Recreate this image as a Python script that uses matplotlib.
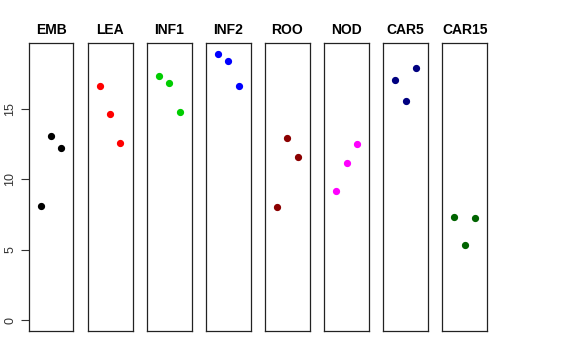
import matplotlib
matplotlib.use("Agg")
import matplotlib.pyplot as plt

plt.rcParams['font.family'] = ['Liberation Sans', 'DejaVu Sans']

# panel names, colours and the three values in each panel
groups = ['EMB', 'LEA', 'INF1', 'INF2', 'ROO', 'NOD', 'CAR5', 'CAR15']
colors = ['black', 'red', '#00CD00', 'blue', '#8B0000', 'magenta', '#000080', '#006400']
emb = [8.11, 13.08, 12.26]
lea = [16.65, 14.67, 12.59]
inf1 = [17.34, 16.84, 14.79]
inf2 = [18.9, 18.43, 16.63]
roo = [8.02, 12.94, 11.57]
nod = [9.16, 11.19, 12.49]
car5 = [17.08, 15.59, 17.91]
car15 = [7.36, 5.35, 7.26]
values = [emb, lea, inf1, inf2, roo, nod, car5, car15]
xpos = [1, 2, 3]
yticks = [0, 5, 10, 15]

fig = plt.figure(figsize=(5.76, 3.6), dpi=100)

ymax = max(max(v) for v in values)
ypad = 0.04 * ymax
for i, (name, col, vals) in enumerate(zip(groups, colors, values)):
    left = (28.7 + i * 59.1) / 576
    ax = fig.add_axes([left, 29 / 360, 44.7 / 576, 287.7 / 360])
    ax.plot(xpos, vals, 'o', color=col, ms=4.2, mec=col)
    ax.set_xlim(-0.16, 4.16)
    ax.set_ylim(-ypad, ymax + ypad)
    ax.set_xticks([])
    for s in ax.spines.values():
        s.set_linewidth(0.9)
        s.set_color('#222222')
    ax.set_title(name, fontsize=10, fontweight='bold', pad=7)
    if i == 0:
        ax.set_yticks(yticks)
        ax.set_yticklabels([str(t) for t in yticks], rotation=90, va='center',
                           fontsize=9, color='#333333')
        ax.tick_params(axis='y', length=6, width=0.8, color='#333333', pad=3)
    else:
        ax.set_yticks([])

fig.savefig('out.png', dpi=100)
